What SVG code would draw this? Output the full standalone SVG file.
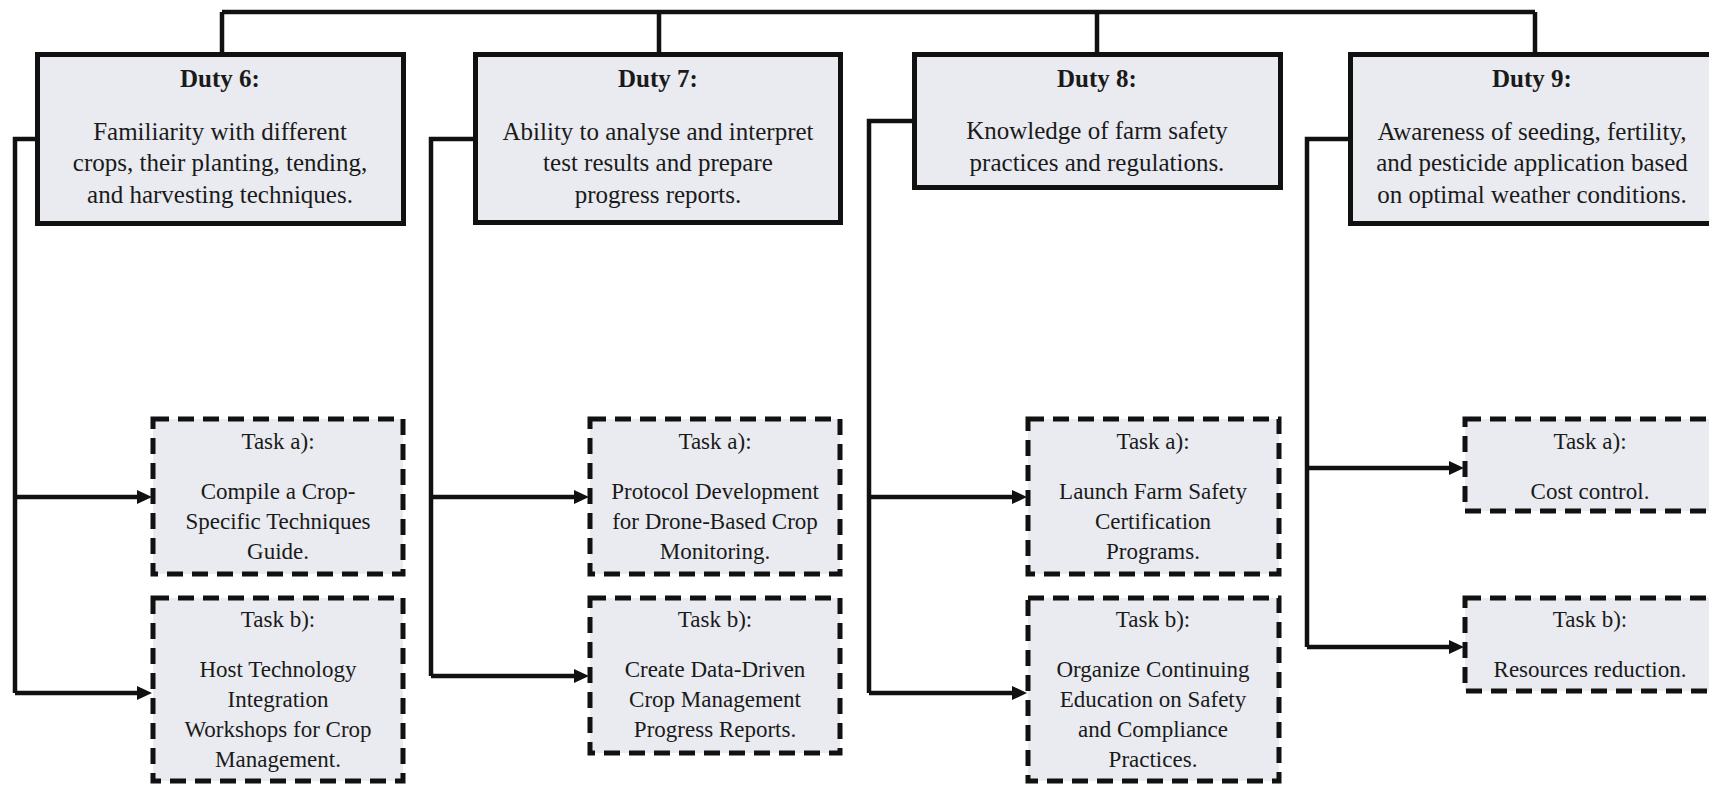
<svg xmlns="http://www.w3.org/2000/svg" width="1709" height="787" viewBox="0 0 1709 787">
<defs>
<style>
.duty{fill:#e9ebf0;stroke:#111;stroke-width:5}
.task{fill:#e9ebf0;stroke:#111;stroke-width:5;stroke-dasharray:16 9}
.conn{fill:none;stroke:#111;stroke-width:4.5}
.t{font-family:"Liberation Serif","Times New Roman",serif;fill:#1a1a1a;text-anchor:middle}
.title{font-size:25px;font-weight:bold}
.body{font-size:25px}
.tk{font-size:23px}
</style>
<marker id="ah" markerUnits="userSpaceOnUse" markerWidth="15" markerHeight="15" refX="0" refY="7" orient="auto">
<path d="M0,0 L15,7 L0,14 z" fill="#111"/>
</marker>
</defs>
<rect width="1709" height="787" fill="#fff"/>

<g id="connectors">
<path class="conn" d="M222 12 H1535 M222 12 V54 M659 12 V54 M1097 12 V54 M1535 12 V54"/>
<path class="conn" d="M37 139 H15 V693"/>
<path class="conn" d="M15 497 H137" marker-end="url(#ah)"/>
<path class="conn" d="M15 693 H137" marker-end="url(#ah)"/>
<path class="conn" d="M475 139 H431 V676"/>
<path class="conn" d="M431 497 H574" marker-end="url(#ah)"/>
<path class="conn" d="M431 676 H574" marker-end="url(#ah)"/>
<path class="conn" d="M914 121 H869 V693"/>
<path class="conn" d="M869 497 H1012" marker-end="url(#ah)"/>
<path class="conn" d="M869 693 H1012" marker-end="url(#ah)"/>
<path class="conn" d="M1350 139 H1307 V647"/>
<path class="conn" d="M1307 468 H1449" marker-end="url(#ah)"/>
<path class="conn" d="M1307 647 H1449" marker-end="url(#ah)"/>
</g>

<g id="duty6">
<rect class="duty" x="37.5" y="54.5" width="366" height="169"/>
<text class="t title" x="220" y="87">Duty 6:</text>
<text class="t body" x="220" y="140">Familiarity with different</text>
<text class="t body" x="220" y="171">crops, their planting, tending,</text>
<text class="t body" x="220" y="203">and harvesting techniques.</text>
</g>
<g id="duty7">
<rect class="duty" x="475.5" y="54.5" width="365" height="168"/>
<text class="t title" x="658" y="87">Duty 7:</text>
<text class="t body" x="658" y="140">Ability to analyse and interpret</text>
<text class="t body" x="658" y="171">test results and prepare</text>
<text class="t body" x="658" y="203">progress reports.</text>
</g>
<g id="duty8">
<rect class="duty" x="914.5" y="54.5" width="366" height="133"/>
<text class="t title" x="1097" y="87">Duty 8:</text>
<text class="t body" x="1097" y="139">Knowledge of farm safety</text>
<text class="t body" x="1097" y="171">practices and regulations.</text>
</g>
<g id="duty9">
<rect class="duty" x="1350.5" y="54.5" width="372" height="169"/>
<text class="t title" x="1532" y="87">Duty 9:</text>
<text class="t body" x="1532" y="140">Awareness of seeding, fertility,</text>
<text class="t body" x="1532" y="171">and pesticide application based</text>
<text class="t body" x="1532" y="203">on optimal weather conditions.</text>
</g>

<g id="task6a">
<rect class="task" x="153" y="419" width="250" height="155"/>
<text class="t tk" x="278" y="449">Task a):</text>
<text class="t tk" x="278" y="499">Compile a Crop-</text>
<text class="t tk" x="278" y="529">Specific Techniques</text>
<text class="t tk" x="278" y="559">Guide.</text>
</g>
<g id="task6b">
<rect class="task" x="153" y="598" width="250" height="183"/>
<text class="t tk" x="278" y="627">Task b):</text>
<text class="t tk" x="278" y="677">Host Technology</text>
<text class="t tk" x="278" y="707">Integration</text>
<text class="t tk" x="278" y="737">Workshops for Crop</text>
<text class="t tk" x="278" y="767">Management.</text>
</g>
<g id="task7a">
<rect class="task" x="590" y="419" width="250" height="155"/>
<text class="t tk" x="715" y="449">Task a):</text>
<text class="t tk" x="715" y="499">Protocol Development</text>
<text class="t tk" x="715" y="529">for Drone-Based Crop</text>
<text class="t tk" x="715" y="559">Monitoring.</text>
</g>
<g id="task7b">
<rect class="task" x="590" y="598" width="250" height="155"/>
<text class="t tk" x="715" y="627">Task b):</text>
<text class="t tk" x="715" y="677">Create Data-Driven</text>
<text class="t tk" x="715" y="707">Crop Management</text>
<text class="t tk" x="715" y="737">Progress Reports.</text>
</g>
<g id="task8a">
<rect class="task" x="1028" y="419" width="251" height="155"/>
<text class="t tk" x="1153" y="449">Task a):</text>
<text class="t tk" x="1153" y="499">Launch Farm Safety</text>
<text class="t tk" x="1153" y="529">Certification</text>
<text class="t tk" x="1153" y="559">Programs.</text>
</g>
<g id="task8b">
<rect class="task" x="1028" y="598" width="251" height="183"/>
<text class="t tk" x="1153" y="627">Task b):</text>
<text class="t tk" x="1153" y="677">Organize Continuing</text>
<text class="t tk" x="1153" y="707">Education on Safety</text>
<text class="t tk" x="1153" y="737">and Compliance</text>
<text class="t tk" x="1153" y="767">Practices.</text>
</g>
<g id="task9a">
<rect class="task" x="1465" y="419" width="262" height="92"/>
<text class="t tk" x="1590" y="449">Task a):</text>
<text class="t tk" x="1590" y="499">Cost control.</text>
</g>
<g id="task9b">
<rect class="task" x="1465" y="598" width="262" height="93"/>
<text class="t tk" x="1590" y="627">Task b):</text>
<text class="t tk" x="1590" y="677">Resources reduction.</text>
</g>
</svg>
